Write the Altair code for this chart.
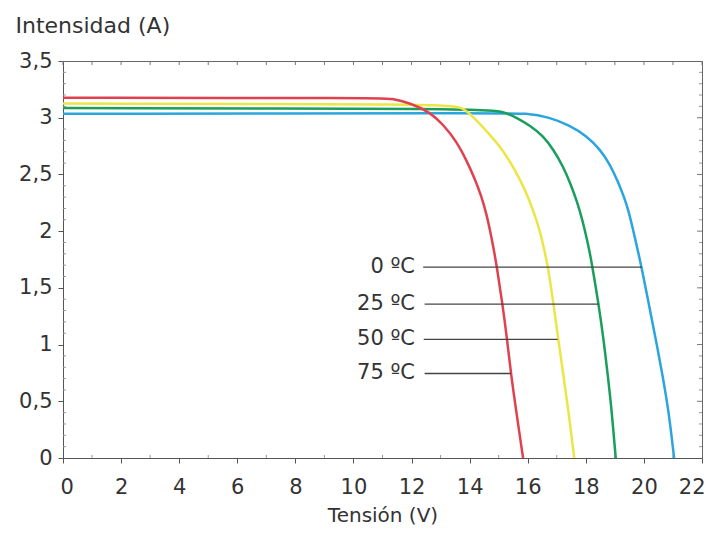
import altair as alt
import pandas as pd

temps = ["0 ºC", "25 ºC", "50 ºC", "75 ºC"]
colors = ["#2aa5dd", "#1a9e5c", "#ebe646", "#e0414f"]

# Curves (V, A)
v_0 = [0, 15.2, 15.9, 16.76, 17.45, 18.03, 18.49, 18.83, 19.12, 19.33, 19.47, 19.63, 19.78, 19.92, 20.17, 20.41, 20.63, 20.85, 21.04]
i_0 = [3.035, 3.04, 3.04, 3.005, 2.93, 2.84, 2.72, 2.59, 2.43, 2.29, 2.18, 2.01, 1.84, 1.68, 1.356, 1.046, 0.745, 0.42, 0.0]

v_25 = [0, 14.6, 15.2, 15.62, 16.08, 16.53, 16.88, 17.22, 17.47, 17.7, 17.88, 18.02, 18.13, 18.23, 18.44, 18.61, 18.75, 18.89, 19.03]
i_25 = [3.085, 3.08, 3.05, 3.0, 2.93, 2.84, 2.72, 2.57, 2.42, 2.26, 2.1, 1.95, 1.82, 1.68, 1.356, 1.046, 0.745, 0.42, 0.0]

v_50 = [0, 13.3, 13.75, 14.12, 14.7, 15.16, 15.56, 15.9, 16.18, 16.4, 16.56, 16.7, 16.89, 17.05, 17.22, 17.4, 17.6]
i_50 = [3.125, 3.12, 3.09, 3.01, 2.85, 2.71, 2.54, 2.37, 2.19, 2.02, 1.85, 1.68, 1.356, 1.046, 0.745, 0.42, 0.0]

v_75 = [0, 10.9, 11.3, 11.95, 12.63, 13.09, 13.55, 13.9, 14.18, 14.4, 14.57, 14.71, 14.83, 14.94, 15.13, 15.29, 15.42, 15.6, 15.84]
i_75 = [3.175, 3.175, 3.17, 3.13, 3.05, 2.94, 2.79, 2.62, 2.46, 2.31, 2.16, 2.0, 1.84, 1.68, 1.356, 1.046, 0.745, 0.42, 0.0]

# Annotation leader lines
ann_current = [1.683, 1.356, 1.046, 0.745]
ann_start = [12.4, 12.45, 12.42, 12.45]
ann_end = [19.93, 18.44, 17.03, 15.42]
ann_label_x = [12.12, 12.12, 12.12, 12.12]

x_ticks = [0, 2, 4, 6, 8, 10, 12, 14, 16, 18, 20, 22]
y_ticks = [0, 0.5, 1, 1.5, 2, 2.5, 3, 3.5]
x_minor = [1, 3, 5, 7, 9, 11, 13, 15, 17, 19, 21]
y_minor = [round(k * 0.1, 1) for k in range(1, 35) if k % 5]

rows = []
for t, vs, cs in zip(temps, [v_0, v_25, v_50, v_75], [i_0, i_25, i_50, i_75]):
    for v, c in zip(vs, cs):
        rows.append({"t": t, "v": v, "i": c})
curves = pd.DataFrame(rows)

ann = pd.DataFrame({"t": temps, "i": ann_current, "v": ann_start, "v2": ann_end, "lx": ann_label_x})

FONT = "DejaVu Sans"
xscale = alt.Scale(domain=[0, 22], nice=False, zero=False)
yscale = alt.Scale(domain=[0, 3.5], nice=False)

x_axis = alt.Axis(values=x_ticks, title="Tensión (V)", grid=False, tickSize=5,
                  labelPadding=13, labelFontSize=21, titleFontSize=20,
                  labelFlush=True, labelFlushOffset=3,
                  titleFontWeight="normal", titleY=47, titleBaseline="top",
                  labelExpr="replace(format(datum.value, '~g'), '.', ',')")
y_axis = alt.Axis(values=y_ticks, title="Intensidad (A)", grid=False, tickSize=5,
                  labelPadding=6, labelFontSize=21, titleFontSize=22,
                  titleFontWeight="normal", titleAngle=0, titleAlign="left",
                  titleX=-48, titleY=-29, titleBaseline="alphabetic",
                  labelExpr="replace(format(datum.value, '~g'), '.', ',')")

X = lambda f: alt.X(f, type="quantitative", scale=xscale, axis=x_axis)
Y = lambda f: alt.Y(f, type="quantitative", scale=yscale, axis=y_axis)

lines = alt.Chart(curves).mark_line(interpolate="basis", strokeWidth=2.5).encode(
    x=X("v"), y=Y("i"),
    color=alt.Color("t:N", scale=alt.Scale(domain=temps, range=colors), legend=None),
    order="v:Q",
)

rules = alt.Chart(ann).mark_rule(color="#444444", strokeWidth=1.3).encode(
    x=X("v"), x2="v2:Q", y=Y("i")
)

labels = alt.Chart(ann).mark_text(align="right", baseline="middle", fontSize=21,
                                   font=FONT, color="#333333").encode(
    x=alt.X("lx:Q", scale=xscale, axis=x_axis), y=Y("i"), text="t:N"
)

top_ticks = alt.Chart(pd.DataFrame({"v": x_ticks + x_minor})).mark_rule(
    color="#777777", strokeWidth=1).encode(x=X("v"), y=alt.value(0), y2=alt.value(4))
bot_ticks = alt.Chart(pd.DataFrame({"v": x_minor})).mark_rule(
    color="#999999", strokeWidth=1).encode(x=X("v"), y=alt.value(397), y2=alt.value(394))
right_major = alt.Chart(pd.DataFrame({"i": y_ticks[1:-1]})).mark_rule(
    color="#777777", strokeWidth=1).encode(y=Y("i"), x=alt.value(639), x2=alt.value(634))
right_minor = alt.Chart(pd.DataFrame({"i": y_minor})).mark_rule(
    color="#999999", strokeWidth=1).encode(y=Y("i"), x=alt.value(639), x2=alt.value(636))
left_minor = alt.Chart(pd.DataFrame({"i": y_minor})).mark_rule(
    color="#999999", strokeWidth=1).encode(y=Y("i"), x=alt.value(0), x2=alt.value(3))

chart = alt.layer(
    top_ticks, bot_ticks, right_major, right_minor, left_minor, lines, rules, labels
).properties(
    width=639, height=397,
    autosize=alt.AutoSizeParams(type="none"),
    padding={"left": 55, "top": 53, "right": 3, "bottom": 67},
).configure(font=FONT).configure_view(
    stroke="#666666", strokeWidth=1
).configure_axis(
    domainColor="#555555", tickColor="#555555", labelColor="#333333",
    titleColor="#333333", labelFont=FONT, titleFont=FONT
)

chart.save("out.html", embed_options={"renderer": "svg", "actions": False})
